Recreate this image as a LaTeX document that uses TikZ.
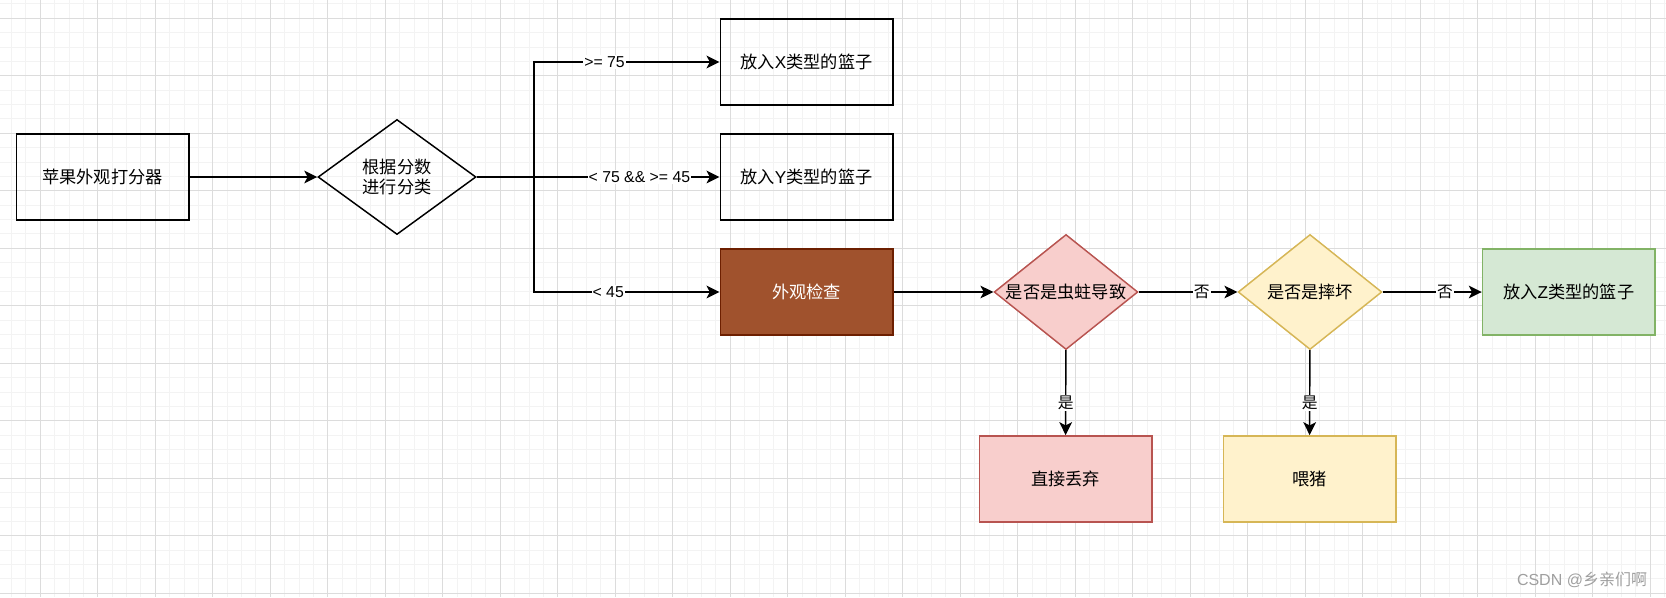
\documentclass[tikz,border=0pt]{standalone}
\usepackage{fontspec}
\setmainfont{Liberation Sans}
\newfontfamily\cjk{Noto Sans CJK SC}
\usetikzlibrary{shapes.geometric,arrows.meta}
\definecolor{redfill}{HTML}{F8CECC}
\definecolor{redline}{HTML}{B85450}
\definecolor{yelfill}{HTML}{FFF2CC}
\definecolor{yelline}{HTML}{D6B656}
\definecolor{grnfill}{HTML}{D5E8D4}
\definecolor{grnline}{HTML}{82B366}
\definecolor{brnfill}{HTML}{A0522D}
\definecolor{brnline}{HTML}{6D1F00}
\definecolor{gridminor}{HTML}{F3F3F3}
\definecolor{gridmajor}{HTML}{DCDCDC}
\tikzset{
  flowbox/.style={draw, line width=1.1pt, minimum width=129.4pt, minimum height=64.7pt, inner sep=0pt, font=\fontsize{12.9}{15}\selectfont, align=center},
  bigdia/.style={draw, shape=diamond, line width=1.1pt, minimum width=118.5pt, minimum height=86.3pt, aspect=1.37, inner sep=0pt, font=\fontsize{12.9}{15}\selectfont, align=center},
  smalldia/.style={draw, shape=diamond, line width=1.1pt, minimum width=107.8pt, minimum height=86.3pt, aspect=1.25, inner sep=0pt, font=\fontsize{12.9}{15}\selectfont, align=center},
  arr/.style={line width=1.1pt, -{Stealth[length=9.75pt,width=9.5pt,inset=2.5pt]}},
  lbl/.style={fill=white, inner sep=0.8pt, font=\fontsize{11.85}{13}\selectfont},
  gminor/.style={draw=gridminor, line width=0.75pt},
  gmajor/.style={draw=gridmajor, line width=0.75pt}
}
\begin{document}
\begin{tikzpicture}[x=0.75pt, y=-0.75pt]
\useasboundingbox (0,0) rectangle (1666,597);
\fill[white] (0,0) rectangle (1666,597);
% grid
\foreach \i in {0,...,115} \draw[gminor] (11.55+\i*14.375,0) -- (11.55+\i*14.375,597);
\foreach \j in {0,...,41} \draw[gminor] (0,3.9+\j*14.375) -- (1666,3.9+\j*14.375);
\foreach \i in {-1,...,28} \draw[gmajor] (40.3+\i*57.5,0) -- (40.3+\i*57.5,597);
\foreach \j in {0,...,10} \draw[gmajor] (0,18.3+\j*57.5) -- (1666,18.3+\j*57.5);

% nodes
\node[flowbox] (b1) at (102.5,177) {\cjk 苹果外观打分器};
\node[bigdia] (d0) at (397,177) {\cjk 根据分数\\\cjk 进行分类};
\node[flowbox] (bx) at (806.5,62) {{\cjk 放入}X{\cjk 类型的篮子}};
\node[flowbox] (by) at (806.5,177) {{\cjk 放入}Y{\cjk 类型的篮子}};
\node[flowbox, fill=brnfill, draw=brnline, text=white] (bw) at (806.5,292) {\cjk 外观检查};
\node[smalldia, fill=redfill, draw=redline] (d1) at (1066,292) {\cjk 是否是虫蛀导致};
\node[smalldia, fill=yelfill, draw=yelline] (d2) at (1310,292) {\cjk 是否是摔坏};
\node[flowbox, fill=grnfill, draw=grnline] (bz) at (1568.75,292) {{\cjk 放入}Z{\cjk 类型的篮子}};
\node[flowbox, fill=redfill, draw=redline] (bd) at (1065.5,479) {\cjk 直接丢弃};
\node[flowbox, fill=yelfill, draw=yelline] (bp) at (1309.5,479) {\cjk 喂猪};

\coordinate (split) at (534,177);
\coordinate (cup) at (534,62);
\coordinate (cdn) at (534,292);

% connectors
\draw[arr] (b1) -- (d0);
\draw[line width=1.1pt] (d0.east) -- (split);
\draw[arr] (split) -- (cup) -- node[lbl, pos=0.38] {>= 75} (bx.west);
\draw[arr] (d0.east) -- node[lbl, pos=0.67] {< 75 \&\& >= 45} (by.west);
\draw[arr] (split) -- (cdn) -- node[lbl, pos=0.40] {< 45} (bw.west);
\draw[arr] (bw) -- (d1);
\draw[arr] (d1) -- node[lbl, pos=0.64] {\cjk 否} (d2);
\draw[arr] (d2) -- node[lbl, pos=0.63] {\cjk 否} (bz);
\draw[arr] (d1) -- node[lbl, pos=0.62] {\cjk 是} (bd);
\draw[arr] (d2) -- node[lbl, pos=0.62] {\cjk 是} (bp);

% watermark
\node[text=gray!75, font=\fontsize{12}{14}\selectfont, inner sep=0pt] (wm) at (1582,580) {CSDN @{\cjk 乡亲们啊}};
\end{tikzpicture}
\end{document}
